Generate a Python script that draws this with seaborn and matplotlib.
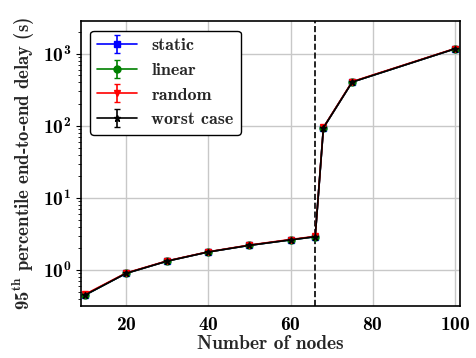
import matplotlib
matplotlib.use("Agg")
import matplotlib.pyplot as plt
import seaborn as sns
import numpy as np

nodes = [10, 20, 30, 40, 50, 60, 66, 68, 75, 100]
static = [0.45, 0.90, 1.33, 1.78, 2.20, 2.62, 2.90, 94, 405, 1170]
linear = [0.45, 0.90, 1.33, 1.78, 2.20, 2.62, 2.90, 94, 405, 1170]
random_ = [0.46, 0.91, 1.34, 1.79, 2.22, 2.65, 2.93, 95, 410, 1180]
worst = [0.45, 0.90, 1.33, 1.78, 2.20, 2.62, 2.90, 94, 405, 1170]
err_frac = [0.04, 0.03, 0.03, 0.03, 0.03, 0.03, 0.03, 0.03, 0.03, 0.03]
threshold = 66

sns.set_style("whitegrid")
plt.rcParams.update({
    "font.family": ["cmb10", "DejaVu Serif"],
    "mathtext.fontset": "custom",
    "mathtext.rm": "cmb10",
    "mathtext.bf": "cmb10",
    "mathtext.it": "cmb10",
    "axes.formatter.use_mathtext": True,
    "axes.unicode_minus": False,
})

fig, ax = plt.subplots(figsize=(4.76, 3.58), dpi=100)

series = [
    ("static", static, "blue", "s", 5),
    ("linear", linear, "green", "o", 5),
    ("random", random_, "red", "v", 5),
    ("worst case", worst, "black", "*", 5),
]
for label, vals, color, marker, ms in series:
    v = np.array(vals)
    yerr = v * np.array(err_frac)
    ax.errorbar(nodes, vals, yerr=yerr, color=color, marker=marker, ms=ms,
                capsize=2, lw=1.2, elinewidth=1.2, label=label)

ax.axvline(threshold, color="black", ls="--", lw=1.2)
ax.set_yscale("log")
ax.set_xlim(9, 101.3)
ax.set_ylim(0.316, 2800)
ax.set_xticks([20, 40, 60, 80, 100])
ax.grid(True, color="#c8c8c8", lw=1)
for s in ax.spines.values():
    s.set_color("black")
    s.set_linewidth(1.2)
ax.tick_params(axis="both", labelsize=14, colors="black", which="both")
ax.tick_params(axis="y", which="minor", left=True, length=2, width=0.6)
ax.tick_params(axis="y", which="major", left=True, length=3.5)
ax.set_xlabel("Number of nodes", fontsize=14, labelpad=1)
ax.set_ylabel(r"95$^{\mathrm{th}}$ percentile end-to-end delay (s)", fontsize=13.5)
leg = ax.legend(loc="upper left", fontsize=13, frameon=True, fancybox=True,
                edgecolor="black", framealpha=1, handlelength=2.2)
leg.get_frame().set_linewidth(1.0)
fig.subplots_adjust(left=0.17, right=0.967, top=0.94, bottom=0.145)
fig.savefig("out.png", dpi=100)
